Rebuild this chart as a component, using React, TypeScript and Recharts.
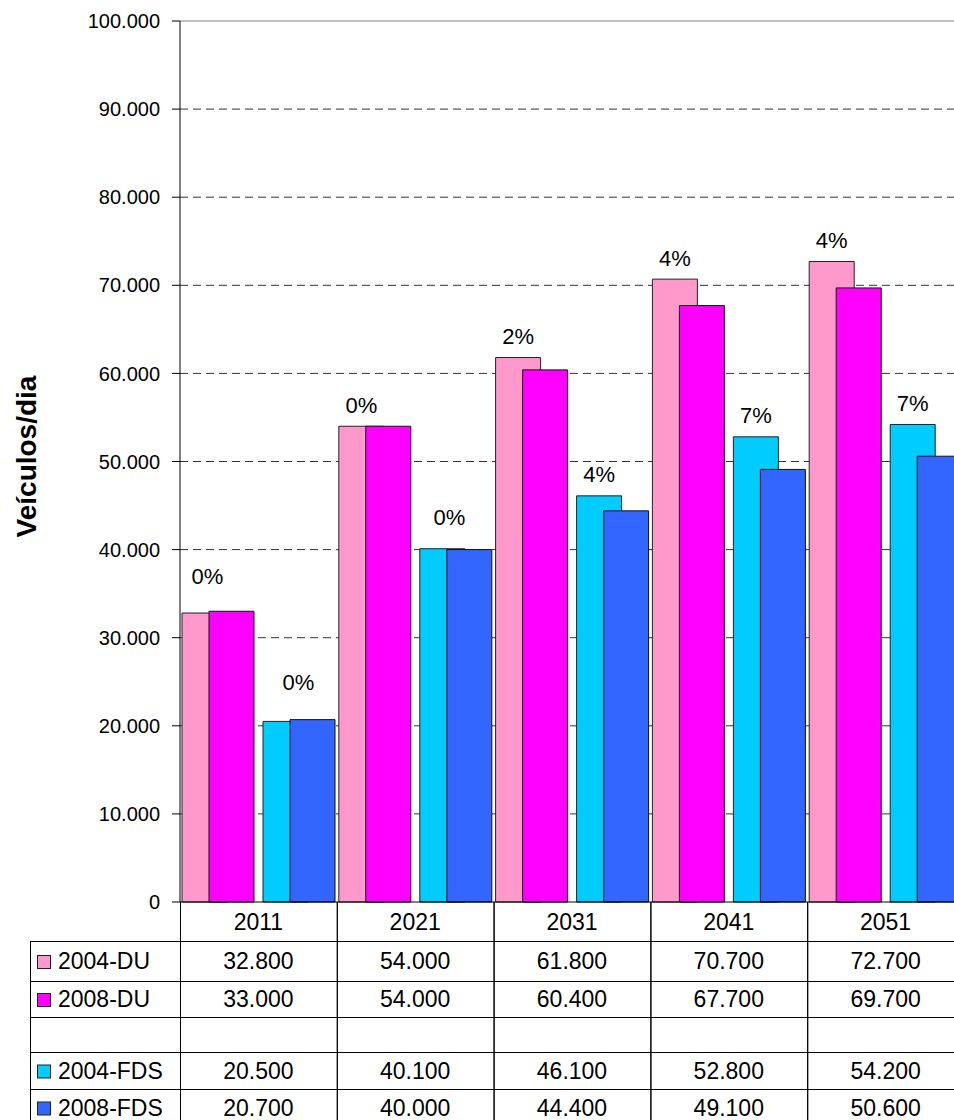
import React from 'react';
import { BarChart, Bar, XAxis, YAxis, CartesianGrid, ReferenceLine, LabelList } from 'recharts';

const categories = ['2011', '2021', '2031', '2041', '2051'];
const du2004 = [32800, 54000, 61800, 70700, 72700];
const du2008 = [33000, 54000, 60400, 67700, 69700];
const fds2004 = [20500, 40100, 46100, 52800, 54200];
const fds2008 = [20700, 40000, 44400, 49100, 50600];
const duChange = ['0%', '0%', '2%', '4%', '4%'];
const fdsChange = ['0%', '0%', '4%', '7%', '7%'];
const yTicks = [0, 10000, 20000, 30000, 40000, 50000, 60000, 70000, 80000, 90000, 100000];
const gridValues = [10000, 20000, 30000, 40000, 50000, 60000, 70000, 80000, 90000];

const seriesNames = ['2004-DU', '2008-DU', '', '2004-FDS', '2008-FDS'];
const seriesColors = ['#FF99CC', '#FF00FF', '', '#00CCFF', '#3366FF'];
const seriesValues = [du2004, du2008, null, fds2004, fds2008];

// style-only nudges for the hand-placed percentage labels
const duNudge = [{ dx: 3, dy: -16 }, { dx: 0, dy: 0 }, { dx: 0, dy: 0 }, { dx: 0, dy: 0 }, { dx: 0, dy: 0 }];
const fdsNudge = [{ dx: 13, dy: -18 }, { dx: 7, dy: -10 }, { dx: 0, dy: 0 }, { dx: 0, dy: 0 }, { dx: 0, dy: 0 }];

const data = categories.map((c, i) => ({
  cat: c,
  du2004: du2004[i],
  du2008: du2008[i],
  fds2004: fds2004[i],
  fds2008: fds2008[i],
  duChange: duChange[i],
  fdsChange: fdsChange[i],
}));

const FONT = '"Liberation Sans", Arial, sans-serif';
const CHART_W = 964;
const CHART_H = 1130;
const Y_AXIS_W = 180;
const PLOT_W = CHART_W - Y_AXIS_W;
const BAND = PLOT_W / categories.length;
const ROW_H = [39, 40, 36, 35, 37, 37];
const TABLE_H = ROW_H.reduce((a, b) => a + b, 0);
const LEGEND_X = 30;

const fmt = (v: number) => String(v).replace(/\B(?=(\d{3})+(?!\d))/g, '.');

const TableTick = (props: any) => {
  const { x, y, index } = props;
  const cx = Number(x);
  const top = Number(y);
  const x0 = cx - BAND / 2;
  const x1 = cx + BAND / 2;
  const rowTops: number[] = [];
  let acc = top;
  ROW_H.forEach((h) => {
    rowTops.push(acc);
    acc += h;
  });
  const bottom = acc;
  const els: React.ReactNode[] = [];
  els.push(<line key="vl" x1={x0 + 0.5} x2={x0 + 0.5} y1={top} y2={bottom} stroke="#000" strokeWidth={1} />);
  els.push(<line key="vr" x1={x1 + 0.5} x2={x1 + 0.5} y1={top} y2={bottom} stroke="#000" strokeWidth={1} />);
  ROW_H.forEach((h, r) => {
    const rt = rowTops[r];
    els.push(
      <line key={'h' + r} x1={x0} x2={x1} y1={Math.round(rt + h) + 0.5} y2={Math.round(rt + h) + 0.5} stroke="#000" strokeWidth={1} />
    );
    let txt = '';
    if (r === 0) txt = categories[index];
    else {
      const vals = seriesValues[r - 1];
      if (vals) txt = fmt(vals[index]);
    }
    if (txt) {
      els.push(
        <text key={'t' + r} x={cx} y={rt + h / 2} textAnchor="middle" dominantBaseline="central" fontSize={23} fontFamily={FONT} fill="#000">
          {txt}
        </text>
      );
    }
  });
  if (index === 0) {
    const lt = rowTops[1];
    els.push(<line key="lv" x1={LEGEND_X + 0.5} x2={LEGEND_X + 0.5} y1={Math.round(lt) + 0.5} y2={bottom} stroke="#000" strokeWidth={1} />);
    els.push(<line key="lt" x1={LEGEND_X} x2={x0} y1={Math.round(lt) + 0.5} y2={Math.round(lt) + 0.5} stroke="#000" strokeWidth={1} />);
    for (let r = 1; r < ROW_H.length; r++) {
      const rt = rowTops[r];
      const h = ROW_H[r];
      els.push(
        <line key={'lh' + r} x1={LEGEND_X} x2={x0} y1={Math.round(rt + h) + 0.5} y2={Math.round(rt + h) + 0.5} stroke="#000" strokeWidth={1} />
      );
      const name = seriesNames[r - 1];
      if (name) {
        const cy = rt + h / 2;
        els.push(
          <rect key={'ls' + r} x={37.5} y={cy - 5.5} width={13} height={13} fill={seriesColors[r - 1]} stroke="#222" strokeWidth={1} />
        );
        els.push(
          <text key={'ln' + r} x={58} y={cy} dominantBaseline="central" fontSize={23} fontFamily={FONT} fill="#000">
            {name}
          </text>
        );
      }
    }
  }
  return <g>{els}</g>;
};

const makeLabel = (nudges: { dx: number; dy: number }[]) => (props: any) => {
  const { x, y, width, value, index } = props;
  const n = nudges[index] || { dx: 0, dy: 0 };
  return (
    <text
      x={Number(x) + Number(width) / 2 + n.dx}
      y={Number(y) - 21 + n.dy}
      textAnchor="middle"
      dominantBaseline="central"
      fontSize={22}
      fontFamily={FONT}
      fill="#000"
    >
      {value}
    </text>
  );
};

const YTitle = (props: any) => {
  const vb = props.viewBox || { x: 0, y: 21, width: 180, height: 881 };
  const cx = 26.5;
  const cy = vb.y + vb.height / 2 - 5;
  return (
    <text
      x={cx}
      y={cy}
      transform={`rotate(-90, ${cx}, ${cy})`}
      textAnchor="middle"
      dominantBaseline="central"
      fontSize={28}
      fontWeight="bold"
      fontFamily={FONT}
      fill="#000"
    >
      Veículos/dia
    </text>
  );
};

export default function App() {
  return (
    <div
      style={{
        position: 'absolute',
        left: 0,
        top: 0,
        width: 954,
        height: 1120,
        overflow: 'hidden',
        background: '#fff',
      }}
    >
      <BarChart
        width={CHART_W}
        height={CHART_H}
        data={data}
        margin={{ top: 21, right: 0, left: 0, bottom: 4 }}
        barCategoryGap={0}
        barGap={-18}
        barSize={45}
      >
        <CartesianGrid vertical={false} stroke="#333" strokeDasharray="8 5" horizontalValues={gridValues} />
        <ReferenceLine y={100000} stroke="#808080" strokeWidth={1} ifOverflow="visible" />
        <XAxis
          dataKey="cat"
          height={TABLE_H}
          interval={0}
          tickLine={false}
          tickSize={0}
          tickMargin={0}
          axisLine={{ stroke: '#000' }}
          tick={<TableTick />}
        />
        <YAxis
          width={Y_AXIS_W}
          domain={[0, 100000]}
          ticks={yTicks}
          interval={0}
          tickFormatter={fmt}
          tickSize={8}
          tickMargin={12}
          tickLine={{ stroke: '#000' }}
          axisLine={{ stroke: '#000' }}
          tick={{ fill: '#000', fontSize: 20, fontFamily: FONT }}
          label={<YTitle />}
        />
        <Bar dataKey="du2004" fill="#FF99CC" stroke="#222" strokeWidth={1} isAnimationActive={false}>
          <LabelList dataKey="duChange" content={makeLabel(duNudge)} />
        </Bar>
        <Bar dataKey="du2008" fill="#FF00FF" stroke="#111" strokeWidth={1} isAnimationActive={false} />
        <Bar dataKey="gap" fill="none" isAnimationActive={false} />
        <Bar dataKey="fds2004" fill="#00CCFF" stroke="#222" strokeWidth={1} isAnimationActive={false}>
          <LabelList dataKey="fdsChange" content={makeLabel(fdsNudge)} />
        </Bar>
        <Bar dataKey="fds2008" fill="#3366FF" stroke="#111" strokeWidth={1} isAnimationActive={false} />
      </BarChart>
    </div>
  );
}
